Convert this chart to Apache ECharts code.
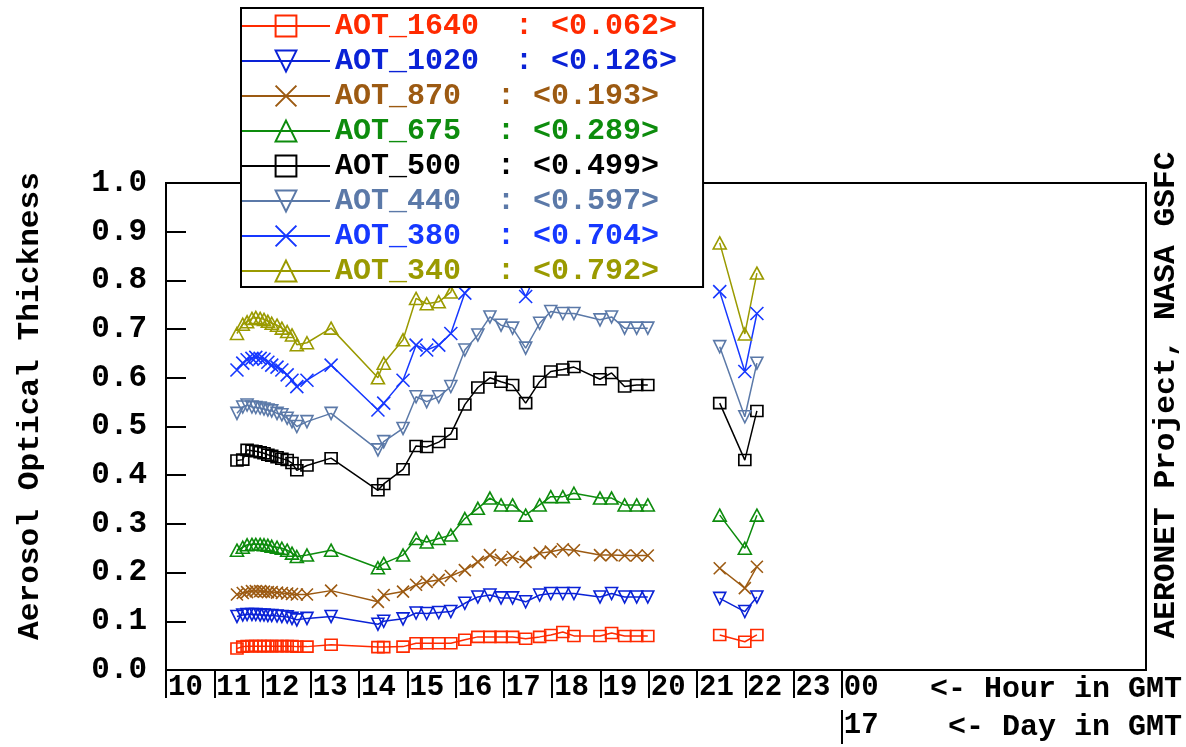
<!DOCTYPE html>
<html>
<head>
<meta charset="utf-8">
<script src="https://cdn.jsdelivr.net/npm/echarts@6/dist/echarts.min.js"></script>
<style>
  html, body { margin: 0; padding: 0; background: #fff; }
  #chart { width: 1186px; height: 747px; }
</style>
</head>
<body>
<div id="chart"></div>
<script>
// Observation times (decimal hours, GMT)
const hours = [11.47, 11.59, 11.68, 11.78, 11.86, 11.95, 12.03, 12.11, 12.19, 12.30, 12.40, 12.51, 12.61, 12.71, 12.92,
  13.42, 14.39, 14.51, 14.91, 15.18, 15.40, 15.65, 15.90,
  16.19, 16.46, 16.71, 16.94, 17.18, 17.45, 17.74, 17.97, 18.22, 18.45, 18.99, 19.23, 19.50, 19.75, 19.98,
  21.47, 21.99, 22.24];

// Aerosol optical thickness per wavelength
const aot1640 = [.044, .048, .049, .049, .049, .049, .049, .049, .049, .049, .049, .049, .049, .048, .048,
  .052, .047, .047, .048, .055, .055, .055, .055,
  .062, .068, .068, .068, .068, .064, .068, .072, .078, .070, .070, .076, .070, .070, .070,
  .072, .058, .072];
const aot1020 = [.110, .113, .114, .114, .114, .113, .113, .112, .112, .111, .110, .109, .106, .103, .106,
  .110, .094, .100, .105, .117, .116, .118, .120,
  .137, .150, .154, .148, .148, .140, .154, .157, .157, .157, .150, .157, .150, .150, .150,
  .147, .120, .150];
const aot870 = [.155, .158, .160, .162, .162, .162, .161, .160, .160, .159, .158, .157, .156, .155, .155,
  .163, .140, .154, .161, .175, .181, .185, .193,
  .205, .222, .236, .226, .232, .222, .240, .243, .248, .246, .236, .236, .235, .235, .235,
  .209, .168, .212];
const aot675 = [.246, .252, .257, .258, .258, .258, .257, .256, .254, .252, .250, .246, .240, .233, .236,
  .246, .210, .219, .236, .270, .263, .270, .277,
  .311, .332, .353, .339, .339, .318, .339, .356, .356, .363, .353, .353, .339, .339, .339,
  .318, .250, .318];
const aot500 = [.430, .432, .452, .450, .449, .447, .445, .442, .440, .437, .434, .431, .425, .410, .420,
  .435, .369, .382, .412, .460, .458, .468, .485,
  .545, .580, .600, .592, .585, .548, .592, .613, .617, .622, .597, .610, .582, .585, .585,
  .548, .431, .532];
const aot440 = [.527, .540, .544, .540, .539, .538, .536, .534, .532, .527, .524, .517, .510, .500, .510,
  .527, .452, .469, .496, .561, .551, .561, .582,
  .657, .688, .725, .708, .702, .661, .712, .736, .732, .732, .719, .725, .702, .702, .702,
  .664, .520, .630];
const aot380 = [.616, .630, .637, .640, .642, .640, .638, .632, .626, .622, .616, .606, .595, .582, .595,
  .626, .534, .548, .595, .667, .657, .667, .691,
  .774, .805, .845, .825, .818, .767, .830, .855, .852, .852, .838, .845, .820, .820, .820,
  .777, .613, .732];
const aot340 = [.691, .710, .715, .722, .724, .722, .720, .716, .712, .708, .702, .695, .688, .668, .672,
  .702, .600, .630, .678, .763, .752, .756, .776,
  .870, .905, .955, .935, .925, .865, .940, .965, .962, .960, .945, .952, .925, .925, .925,
  .877, .690, .815];

// Daily means shown in the legend
const seriesNames = ['AOT_1640', 'AOT_1020', 'AOT_870', 'AOT_675', 'AOT_500', 'AOT_440', 'AOT_380', 'AOT_340'];
const dailyMeans = ['0.062', '0.126', '0.193', '0.289', '0.499', '0.597', '0.704', '0.792'];

// Axis ticks
const hourTicks = [10, 11, 12, 13, 14, 15, 16, 17, 18, 19, 20, 21, 22, 23, 24];
const dayTicks = [24];
const dayLabels = ['17'];
const yTicks = [0, 0.1, 0.2, 0.3, 0.4, 0.5, 0.6, 0.7, 0.8, 0.9, 1.0];

const FONT = 'Liberation Mono';
const TITLE_FONT = 'bold 30px "Liberation Mono"';
const SYM_DOWN = 'path://M0,0L10,0L5,10Z';
const SYM_CROSS = 'path://M0,0L10,10M10,0L0,10';

const styles = {
  AOT_1640: { values: aot1640, color: '#ff2a00', symbol: 'rect', size: [12, 11] },
  AOT_1020: { values: aot1020, color: '#0a22d6', symbol: SYM_DOWN, size: [12, 12] },
  AOT_870:  { values: aot870,  color: '#9c5a12', symbol: SYM_CROSS, size: [12, 12] },
  AOT_675:  { values: aot675,  color: '#0d8c0d', symbol: 'triangle', size: [13, 12] },
  AOT_500:  { values: aot500,  color: '#000000', symbol: 'rect', size: [12, 11] },
  AOT_440:  { values: aot440,  color: '#5b79a8', symbol: SYM_DOWN, size: [12, 12] },
  AOT_380:  { values: aot380,  color: '#1638ff', symbol: SYM_CROSS, size: [13, 13] },
  AOT_340:  { values: aot340,  color: '#9a9a00', symbol: 'triangle', size: [13, 12] }
};

// Pair times with values; a gap longer than an hour breaks the line
function buildData(values) {
  const out = [];
  for (let i = 0; i < hours.length; i++) {
    if (i > 0 && hours[i] - hours[i - 1] > 1) out.push([(hours[i] + hours[i - 1]) / 2, null]);
    out.push([hours[i], values[i]]);
  }
  return out;
}

const series = seriesNames.map(name => {
  const s = styles[name];
  return {
    name: name,
    type: 'line',
    data: buildData(s.values),
    connectNulls: false,
    symbol: s.symbol,
    symbolSize: s.size,
    showAllSymbol: true,
    lineStyle: { color: s.color, width: 1.5 },
    itemStyle: { color: 'rgba(255,255,255,0)', borderColor: s.color, borderWidth: 1.6 },
    emphasis: { disabled: true }
  };
});

const pad2 = v => String(v % 24).padStart(2, '0');

const chart = echarts.init(document.getElementById('chart'), null, { renderer: 'canvas' });
chart.setOption({
  animation: false,
  backgroundColor: '#ffffff',
  grid: {
    left: 166, right: 40, top: 183, bottom: 77,
    show: true, borderColor: '#000', borderWidth: 2, backgroundColor: 'transparent'
  },
  xAxis: [{
    type: 'value', min: 10, max: 30.3, position: 'bottom',
    axisLine: { lineStyle: { color: '#000', width: 2 } },
    splitLine: { show: false },
    axisTick: { show: true, inside: false, length: 28, lineStyle: { color: '#000', width: 2 }, customValues: hourTicks },
    axisLabel: {
      customValues: hourTicks, formatter: v => pad2(v), align: 'left', margin: 3,
      color: '#000', fontFamily: FONT, fontWeight: 'bold', fontSize: 29, padding: [0, 0, 0, 2]
    }
  }, {
    type: 'value', min: 10, max: 30.3, position: 'bottom', offset: 40, gridIndex: 0,
    axisLine: { show: false },
    splitLine: { show: false },
    axisTick: { show: true, inside: false, length: 34, lineStyle: { color: '#000', width: 2 }, customValues: dayTicks },
    axisLabel: {
      customValues: dayTicks, formatter: v => dayLabels[dayTicks.indexOf(v)], align: 'left', margin: 1,
      color: '#000', fontFamily: FONT, fontWeight: 'bold', fontSize: 29, padding: [0, 0, 0, 2]
    }
  }],
  yAxis: {
    type: 'value', min: 0, max: 1, interval: 0.1,
    axisLine: { show: true, lineStyle: { color: '#000', width: 2 } },
    splitLine: { show: false },
    axisTick: { show: true, inside: true, length: 20, lineStyle: { color: '#000', width: 2 }, customValues: yTicks },
    axisLabel: {
      customValues: yTicks, formatter: v => v.toFixed(1), margin: 19,
      color: '#000', fontFamily: FONT, fontWeight: 'bold', fontSize: 31
    }
  },
  legend: {
    orient: 'vertical', left: 241, top: 8,
    itemWidth: 88, itemHeight: 26, itemGap: 5,
    padding: [3, 26, 1, 0],
    backgroundColor: '#fff', borderColor: '#000', borderWidth: 2,
    selectedMode: false,
    data: seriesNames.map(n => ({ name: n, textStyle: { color: styles[n].color } })),
    formatter: name => name + '  : <' + dailyMeans[seriesNames.indexOf(name)] + '>',
    textStyle: { fontFamily: FONT, fontWeight: 'bold', fontSize: 30, lineHeight: 30 }
  },
  series: series,
  graphic: [
    {
      type: 'text', x: 30, y: 406, rotation: Math.PI / 2, scaleX: 1.04,
      style: { text: 'Aerosol Optical Thickness', align: 'center', verticalAlign: 'middle',
        fill: '#000', font: TITLE_FONT }
    },
    {
      type: 'text', x: 1166, y: 395, rotation: Math.PI / 2, scaleX: 1.04,
      style: { text: 'AERONET Project, NASA GSFC', align: 'center', verticalAlign: 'middle',
        fill: '#000', font: TITLE_FONT }
    },
    {
      type: 'text', x: 1182, y: 689,
      style: { text: '<- Hour in GMT', align: 'right', verticalAlign: 'middle',
        fill: '#000', font: TITLE_FONT }
    },
    {
      type: 'text', x: 1182, y: 727,
      style: { text: '<- Day in GMT', align: 'right', verticalAlign: 'middle',
        fill: '#000', font: TITLE_FONT }
    }
  ]
});
</script>
</body>
</html>
